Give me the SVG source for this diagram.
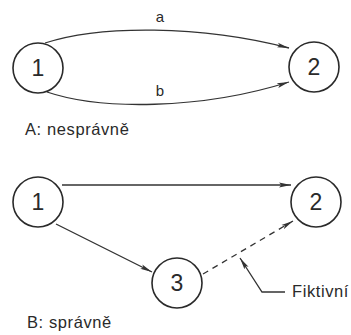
<svg xmlns="http://www.w3.org/2000/svg" width="351" height="335" viewBox="0 0 351 335">
  <style>
    .node circle { fill: #fff; stroke: #2a2a2a; stroke-width: 1.6; }
    .node text { font-family: "Liberation Sans", Arial, sans-serif; font-size: 23px; fill: #2a2a2a; text-anchor: middle; }
    .edge { fill: none; stroke: #333; stroke-width: 1.3; marker-end: url(#arrow); }
    .dashed { stroke-dasharray: 6 5; }
    .label { font-family: "Liberation Sans", Arial, sans-serif; font-size: 15px; fill: #2a2a2a; }
    .caption { font-family: "Liberation Sans", Arial, sans-serif; font-size: 16.5px; letter-spacing: 0.6px; fill: #2a2a2a; }
  </style>
  <defs>
    <marker id="arrow" viewBox="0 0 12 6" refX="12" refY="3" markerWidth="12" markerHeight="6" markerUnits="userSpaceOnUse" orient="auto">
      <path d="M0,0.6 L12,3 L0,5.4 L2.5,3 Z" fill="#333"/>
    </marker>
  </defs>

  <!-- Variant A: two parallel activities between events 1 and 2 -->
  <g id="connectors-a">
    <path class="edge" d="M45,43 C100,25 200,25 289,48"/>
    <path class="edge" d="M47,92 C100,110 200,110 289,82"/>
    <text class="label" x="160" y="22" text-anchor="middle">a</text>
    <text class="label" x="160" y="96" text-anchor="middle">b</text>
  </g>
  <g id="a-node-1" class="node">
    <circle cx="38" cy="68" r="25"/>
    <text x="38" y="76">1</text>
  </g>
  <g id="a-node-2" class="node">
    <circle cx="314" cy="67" r="25"/>
    <text x="314" y="75">2</text>
  </g>
  <text class="caption" x="25" y="135">A: nesprávně</text>

  <!-- Variant B: dummy activity via event 3 -->
  <g id="connectors-b">
    <path class="edge" d="M62,185 L291,185"/>
    <path class="edge" d="M56,224 L152,272"/>
    <path class="edge dashed" d="M203,274 L293,221"/>
    <path fill="none" stroke="#333" stroke-width="1.3" d="M285,292 L262,292 L240,258" marker-end="url(#arrow)"/>
  </g>
  <g id="b-node-1" class="node">
    <circle cx="38" cy="202" r="25"/>
    <text x="38" y="210">1</text>
  </g>
  <g id="b-node-2" class="node">
    <circle cx="316" cy="202" r="25"/>
    <text x="316" y="210">2</text>
  </g>
  <g id="b-node-3" class="node">
    <circle cx="177" cy="283" r="25"/>
    <text x="177" y="291">3</text>
  </g>
  <text class="caption" x="292" y="297">Fiktivní</text>
  <text class="caption" x="27" y="328">B: správně</text>
</svg>
